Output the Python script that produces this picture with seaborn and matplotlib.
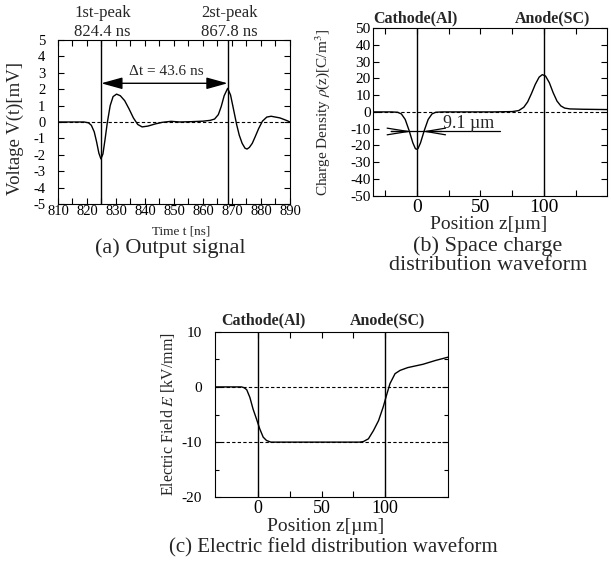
import matplotlib
matplotlib.use('Agg')
import matplotlib.pyplot as plt
import seaborn as sns

# (a) output signal
t_ns = [810, 815, 819, 820.5, 821.5, 822.5, 823.3, 824.1, 824.8, 825.5, 826.2, 827,
        828, 829, 830.2, 831.5, 833, 834.5, 836, 837.5, 839, 841, 843.5, 846, 849,
        852, 856, 860, 862.5, 864, 865.3, 866.3, 867.3, 868.5, 869.5, 870.5, 871.6,
        872.5, 873.5, 874.5, 875.2, 876, 877, 878, 879.2, 880.5, 882, 883.5, 885,
        886.5, 888, 889, 890]
volt_mV = [0, 0, 0, -0.05, -0.2, -0.6, -1.2, -1.9, -2.25, -1.95, -1.1, -0.05,
           1.0, 1.55, 1.7, 1.6, 1.3, 0.8, 0.25, -0.15, -0.3, -0.25, -0.12, -0.02, 0.04,
           0.0, 0.02, 0.05, 0.1, 0.18, 0.45, 0.95, 1.6, 2.05, 1.65, 0.8, -0.15,
           -0.8, -1.3, -1.6, -1.65, -1.55, -1.3, -0.9, -0.4, 0.05, 0.3, 0.35, 0.3,
           0.25, 0.15, 0.08, 0.0]
peak_line_t = [824.9, 868.5]
peak_names = ['1st-peak', '2st-peak']
peak_values = ['824.4 ns', '867.8 ns']
delta_text = '\u0394t = 43.6 ns'

# (b) space charge distribution
z_rho = [-35, -20, -15, -12, -9, -6, -3, -1, 0, 1, 3, 6, 9, 12, 15, 20, 40, 60,
         75, 80, 84, 87, 90, 93, 96, 98.5, 101, 104, 107, 110, 113, 116, 120, 130,
         140, 150]
rho = [0, 0, -0.2, -1.2, -4.5, -11, -18.5, -22, -22.3, -22, -18.5, -11, -4.5,
       -1.2, -0.2, 0, 0, 0, 0.2, 0.8, 2.8, 6, 11, 16.5, 20.8, 22.3, 21.5, 17.5,
       11.5, 6.5, 3.6, 2.3, 1.8, 1.6, 1.5, 1.4]
fwhm_text = '9.1 \u00b5m'

# (c) electric field distribution
z_E = [-34, -20, -13, -11, -9, -6.5, -4, -1.3, 1.3, 4, 6.6, 10, 20, 50, 80, 83,
       87, 91, 95, 98.7, 101.3, 104, 108, 112, 118, 130, 140, 150]
E_kV = [0, 0, 0, -0.15, -0.5, -1.9, -4.0, -5.8, -7.6, -9.1, -9.7, -10, -10, -10,
        -10, -9.9, -9.4, -7.9, -6.1, -3.6, -1.5, 0.6, 2.4, 3.0, 3.5, 4.1, 4.8, 5.4]

electrodes = ['Cathode(Al)', 'Anode(SC)']
electrode_z = [0, 100]

sns.set_theme(style='ticks')
plt.rcParams['font.family'] = ['Liberation Serif', 'DejaVu Serif']
plt.rcParams['mathtext.fontset'] = 'stix'
plt.rcParams['axes.unicode_minus'] = False
plt.rcParams['axes.linewidth'] = 0.8
plt.rcParams['axes.edgecolor'] = 'black'

dash = (0, (3, 2))


def style_axes(ax, xsize, ysize, xpad, ypad):
    ax.tick_params(which='both', direction='in', top=True, right=True,
                   width=0.8, color='black', labelcolor='black')
    ax.tick_params(which='major', length=4.5)
    ax.tick_params(which='minor', length=3)
    ax.tick_params(axis='x', labelsize=xsize, pad=xpad)
    ax.tick_params(axis='y', labelsize=ysize, pad=ypad)


fig = plt.figure(figsize=(6.11, 5.61), dpi=100)

# ---- (a) Output signal
ax = fig.add_axes([0.0949, 0.6364, 0.3797, 0.2923])
sns.lineplot(x=t_ns, y=volt_mV, ax=ax, color='black', lw=1, estimator=None)
ax.axhline(0, color='black', lw=0.8, ls=dash)
for p in peak_line_t:
    ax.axvline(p, color='black', lw=1)
ax.set_xlim(810, 890)
ax.set_ylim(-5, 5)
ax.set_xticks(range(810, 891, 10))
ax.set_xticks(range(815, 890, 10), minor=True)
ax.set_yticks(range(-5, 6))
style_axes(ax, 10.5, 10.5, 0.5, 9)
ax.tick_params(which='minor', length=4.5)
ax.set_xlabel('Time t [ns]', fontsize=9.5)
ax.xaxis.set_label_coords(0.53, -0.13)
ax.set_ylabel('Voltage V(t)[mV]', fontsize=13.5)
ax.yaxis.set_label_coords(-0.147, 0.46)
tr = ax.get_xaxis_transform()
for p, name, val in zip(peak_line_t, peak_names, peak_values):
    ax.text(p + 0.5, 1.162, name, transform=tr, ha='center', va='center', fontsize=12)
    ax.text(p + 0.5, 1.046, val, transform=tr, ha='center', va='center', fontsize=12)
ax.annotate('', xy=(peak_line_t[1], 2.36), xytext=(peak_line_t[0], 2.36),
            arrowprops=dict(arrowstyle='<|-|>,head_length=0.65,head_width=0.18',
                            color='black', lw=1, shrinkA=0, shrinkB=0,
                            mutation_scale=20))
ax.text(847.5, 3.05, delta_text, ha='center', va='center', fontsize=11)

# ---- (b) Space charge distribution
ax = fig.add_axes([0.611, 0.6515, 0.382, 0.298])
sns.lineplot(x=z_rho, y=rho, ax=ax, color='black', lw=1, estimator=None)
ax.axhline(0, color='black', lw=0.8, ls=dash)
for z in electrode_z:
    ax.axvline(z, color='black', lw=1)
ax.set_xlim(-34, 149)
ax.set_ylim(-50, 50)
ax.set_xticks([-25, 0, 25, 50, 75, 100, 125])
ax.set_xticklabels(['', '0', '', '50', '', '100', ''])
ax.set_yticks(range(-50, 51, 10))
style_axes(ax, 14, 11, 2.5, 2)
ax.set_xlabel('Position z[\u00b5m]', fontsize=14)
ax.xaxis.set_label_coords(0.494, -0.125)
ax.set_ylabel(r'Charge Density $\rho$(z)[C/m$^3$]', fontsize=11)
ax.yaxis.set_label_coords(-0.177, 0.5)
tr = ax.get_xaxis_transform()
ax.text(-1.3, 1.062, electrodes[0], transform=tr, ha='center', va='center',
        fontsize=11.5, fontweight='bold')
ax.text(106.5, 1.062, electrodes[1], transform=tr, ha='center', va='center',
        fontsize=11.5, fontweight='bold')
# width marker of the cathode peak
ax.plot([-20, 65], [-11.7, -11.7], color='black', lw=0.9)
ax.annotate('', xy=(-3.6, -11.7), xytext=(-20, -11.7),
            arrowprops=dict(arrowstyle='->,head_length=1.51,head_width=0.24',
                            color='black', lw=0.9, shrinkA=0, shrinkB=0,
                            mutation_scale=10))
ax.annotate('', xy=(4.2, -11.7), xytext=(19.6, -11.7),
            arrowprops=dict(arrowstyle='->,head_length=1.42,head_width=0.24',
                            color='black', lw=0.9, shrinkA=0, shrinkB=0,
                            mutation_scale=10))
ax.text(20.8, -9.6, fwhm_text, ha='left', va='baseline', fontsize=13)

# ---- (c) Electric field distribution
ax = fig.add_axes([0.3519, 0.1135, 0.3818, 0.2952])
sns.lineplot(x=z_E, y=E_kV, ax=ax, color='black', lw=1, estimator=None)
ax.axhline(0, color='black', lw=0.8, ls=dash)
ax.axhline(-10, color='black', lw=0.8, ls=dash)
for z in electrode_z:
    ax.axvline(z, color='black', lw=1)
ax.set_xlim(-34, 150)
ax.set_ylim(-20, 10)
ax.set_xticks([0, 25, 50, 75, 100])
ax.set_xticklabels(['0', '', '50', '', '100'])
ax.set_yticks([-20, -10, 0, 10])
ax.set_yticks([-15, -5, 5], minor=True)
style_axes(ax, 13, 11, 2, 9.5)
ax.set_xlabel('Position z[\u00b5m]', fontsize=14)
ax.xaxis.set_label_coords(0.475, -0.124)
ax.set_ylabel(r'Electric Field $E$ [kV/mm]', fontsize=11.4)
ax.yaxis.set_label_coords(-0.163, 0.5)
tr = ax.get_xaxis_transform()
ax.text(4, 1.071, electrodes[0], transform=tr, ha='center', va='center',
        fontsize=11.5, fontweight='bold')
ax.text(102.4, 1.071, electrodes[1], transform=tr, ha='center', va='center',
        fontsize=11.5, fontweight='bold')

# captions
fig.text(170 / 611, 1 - 248 / 561, '(a) Output signal', ha='center', va='center',
         fontsize=16)
fig.text(488 / 611, 1 - 236 / 561, '(b) Space charge\ndistribution waveform',
         ha='center', va='top', fontsize=16, linespacing=1.05)
fig.text(333 / 611, 1 - 548 / 561, '(c) Electric field distribution waveform',
         ha='center', va='center', fontsize=15)

fig.savefig('out.png', dpi=100)
